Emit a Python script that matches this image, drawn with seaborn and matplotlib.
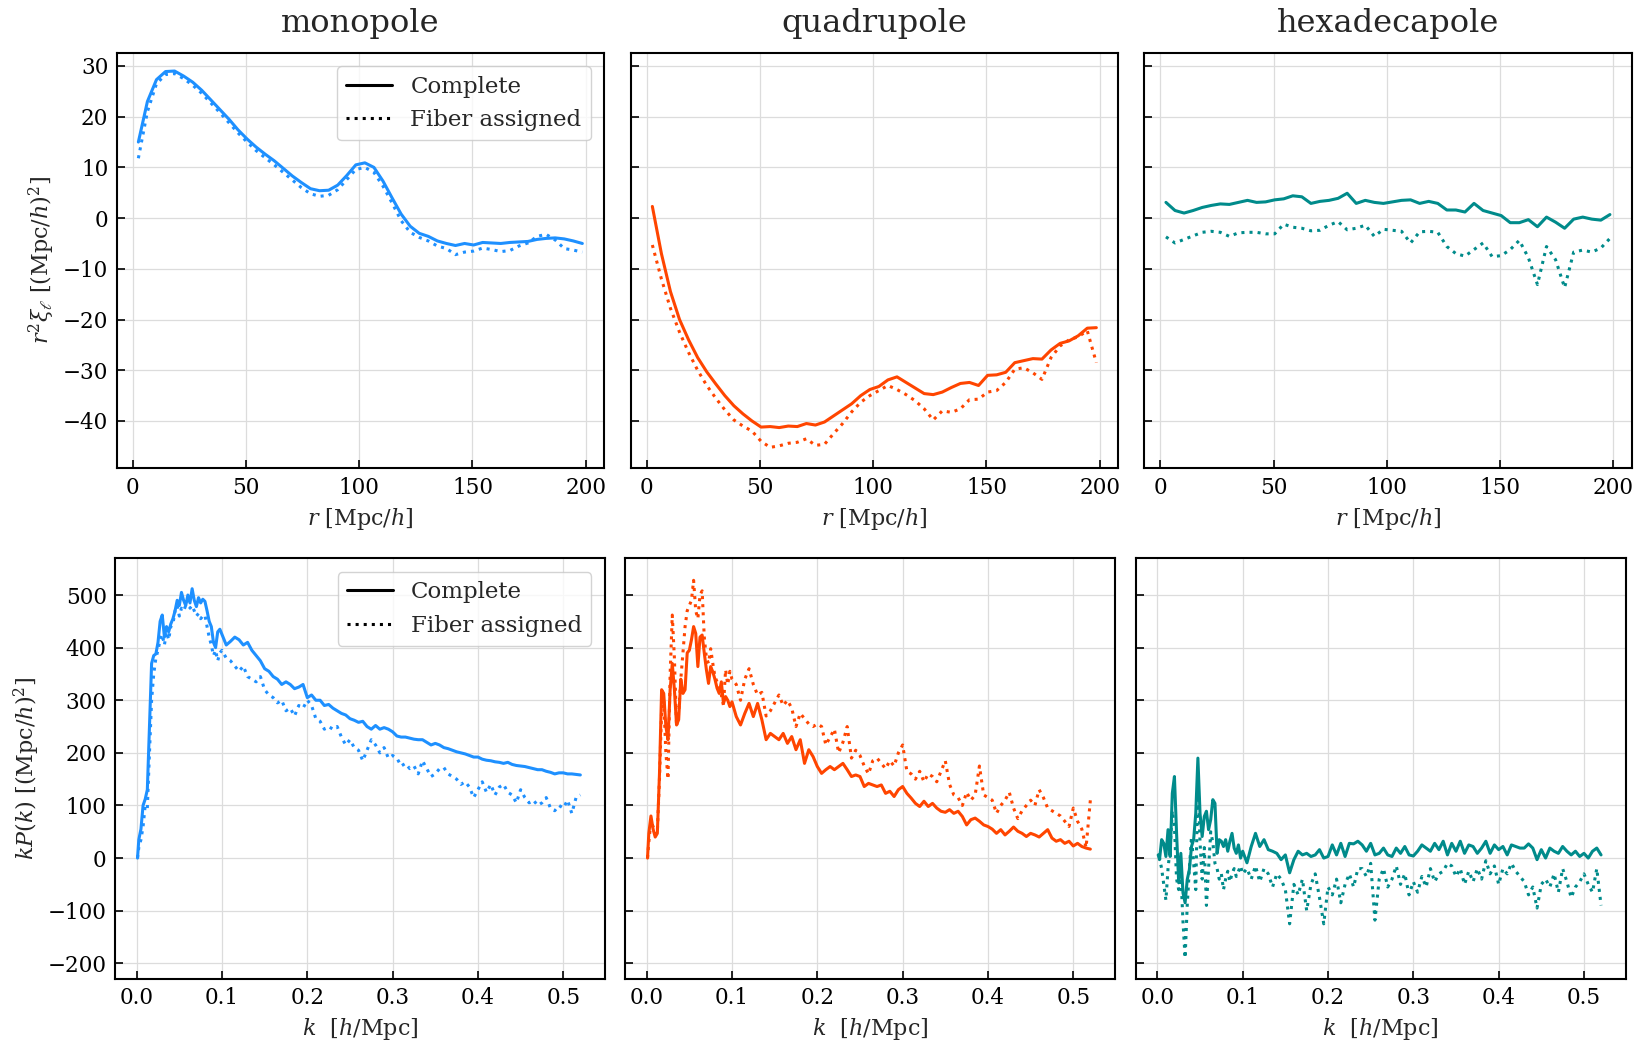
import numpy as np
import matplotlib
matplotlib.use("Agg")
import matplotlib.pyplot as plt
import seaborn as sns
from matplotlib.lines import Line2D

# ---------------- configuration-space multipoles ----------------
r = [2.5, 6.5, 10.5, 14.5, 18.5, 22.5, 26.5, 30.5, 34.5, 38.5,
     42.5, 46.5, 50.5, 54.5, 58.5, 62.5, 66.5, 70.5, 74.5, 78.5,
     82.5, 86.5, 90.5, 94.5, 98.5, 102.5, 106.5, 110.5, 114.5, 118.5,
     122.5, 126.5, 130.5, 134.5, 138.5, 142.5, 146.5, 150.5, 154.5, 158.5,
     162.5, 166.5, 170.5, 174.5, 178.5, 182.5, 186.5, 190.5, 194.5, 198.5]

xi0_complete = [15.0, 23.0, 27.3, 28.9, 29.0, 28.0, 26.8, 25.2, 23.3, 21.4,
                19.5, 17.4, 15.6, 14.0, 12.6, 11.3, 9.8, 8.3, 7.0, 5.8,
                5.4, 5.5, 6.5, 8.4, 10.5, 10.9, 10.0, 7.3, 4.0, 0.8,
                -1.6, -3.0, -3.6, -4.5, -5.0, -5.4, -5.0, -5.3, -4.8, -4.9,
                -5.0, -4.8, -4.7, -4.6, -4.2, -4.0, -3.9, -4.1, -4.5, -5.0]
xi0_fiber = [11.8, 21.0, 26.5, 28.3, 28.5, 27.5, 26.2, 24.6, 22.7, 20.8,
             18.8, 16.8, 15.0, 13.3, 11.9, 10.5, 9.0, 7.5, 6.0, 4.8,
             4.3, 4.5, 5.6, 7.6, 9.6, 10.0, 9.0, 6.3, 3.0, -0.5,
             -2.8, -3.8, -4.5, -5.5, -6.0, -7.2, -6.7, -6.5, -5.9, -6.2,
             -6.6, -6.4, -5.5, -4.9, -3.6, -3.2, -4.3, -6.0, -6.3, -6.7]

xi2_complete = [2.3, -7.0, -14.5, -20.0, -24.0, -27.5, -30.3, -32.7, -35.0, -37.0,
                -38.6, -40.0, -41.2, -41.1, -41.3, -41.0, -41.1, -40.5, -40.8, -40.2,
                -39.0, -37.8, -36.6, -35.0, -33.8, -33.2, -31.9, -31.3, -32.4, -33.5,
                -34.6, -34.8, -34.3, -33.4, -32.6, -32.4, -33.0, -31.0, -30.9, -30.4,
                -28.5, -28.1, -27.7, -27.8, -26.0, -24.7, -24.2, -23.2, -21.7, -21.6]
xi2_fiber = [-5.3, -12.0, -17.8, -22.5, -26.5, -30.0, -33.0, -35.5, -37.8, -39.8,
             -41.0, -42.0, -44.0, -45.2, -44.9, -44.4, -44.2, -43.5, -44.8, -44.6,
             -42.5, -40.5, -38.2, -36.3, -35.0, -34.0, -33.0, -33.8, -34.8, -36.0,
             -37.6, -39.8, -38.0, -38.3, -37.6, -35.8, -35.7, -34.3, -34.0, -32.4,
             -29.8, -29.5, -30.5, -31.8, -27.5, -25.2, -24.0, -23.4, -22.2, -28.5]

xi4_complete = [3.1, 1.5, 1.0, 1.5, 2.1, 2.5, 2.8, 2.7, 3.1, 3.5,
                3.1, 3.2, 3.6, 3.8, 4.4, 4.2, 2.9, 3.3, 3.5, 3.9,
                4.9, 2.9, 3.5, 3.1, 2.9, 3.2, 3.5, 3.6, 2.9, 3.3,
                2.9, 1.6, 1.6, 1.2, 2.9, 1.5, 1.0, 0.5, -0.9, -0.9,
                -0.3, -1.7, 0.2, -0.8, -2.0, -0.2, 0.2, -0.2, -0.4, 0.7]
xi4_fiber = [-3.7, -4.9, -4.2, -3.5, -2.8, -2.6, -2.8, -3.6, -2.9, -2.8,
             -2.8, -3.1, -3.1, -1.2, -1.8, -2.0, -2.5, -2.4, -1.4, -0.7,
             -2.3, -2.0, -1.4, -3.6, -2.2, -2.4, -2.6, -4.9, -2.7, -2.6,
             -2.8, -5.6, -7.0, -7.5, -6.2, -4.9, -7.6, -7.4, -6.2, -4.4,
             -7.8, -13.1, -5.6, -8.2, -13.7, -6.7, -6.3, -6.7, -5.9, -4.0]

# ---------------- Fourier-space multipoles ----------------
k_low = np.round(np.arange(40) * 0.0025, 4)
k_low[0] = 0.001
k_high = np.round(0.1 + np.arange(85) * 0.005, 4)
k = np.concatenate([k_low, k_high])

P0_complete = [0, 35, 55, 100, 112, 130, 250, 370, 385, 388,
               410, 450, 462, 420, 440, 430, 445, 455, 470, 490,
               480, 505, 490, 480, 500, 485, 512, 490, 478, 495,
               485, 492, 488, 470, 450, 440, 410, 400, 430, 435,
               425, 405, 412, 420, 415, 405, 410, 395, 385, 375,
               360, 355, 345, 340, 330, 335, 330, 322, 325, 330,
               305, 310, 300, 300, 290, 292, 285, 280, 275, 272,
               265, 262, 258, 260, 250, 245, 252, 245, 248, 245,
               240, 232, 230, 230, 228, 226, 225, 225, 220, 215,
               218, 215, 210, 208, 205, 202, 200, 198, 195, 192,
               192, 188, 186, 185, 183, 182, 180, 182, 178, 176,
               175, 174, 172, 170, 168, 168, 165, 163, 160, 162,
               162, 160, 160, 159, 158]
P0_fiber = [0, 20, 35, 60, 100, 95, 200, 300, 350, 380,
            395, 415, 425, 405, 430, 415, 440, 445, 470, 480,
            460, 475, 470, 480, 490, 475, 480, 470, 460, 465,
            455, 460, 462, 440, 420, 405, 385, 395, 375, 390,
            395, 380, 375, 365, 355, 365, 345, 340, 335, 345,
            320, 310, 305, 295, 300, 280, 285, 270, 290, 285,
            300, 290, 265, 260, 245, 250, 245, 250, 230, 215,
            225, 210, 205, 185, 205, 225, 215, 200, 210, 190,
            195, 190, 175, 180, 170, 175, 160, 185, 170, 155,
            160, 170, 172, 160, 155, 150, 140, 145, 135, 115,
            130, 145, 125, 140, 120, 135, 140, 125, 120, 105,
            130, 115, 105, 110, 100, 105, 115, 95, 90, 100,
            95, 110, 85, 115, 120]

P2_complete = [0, 47, 80, 55, 40, 47, 160, 320, 313, 250,
               225, 320, 370, 320, 253, 263, 340, 313, 320, 390,
               395, 415, 440, 427, 364, 420, 424, 390, 358, 332,
               364, 354, 340, 323, 313, 335, 294, 307, 300, 288,
               297, 269, 253, 275, 294, 269, 294, 263, 225, 237,
               231, 225, 237, 218, 231, 206, 225, 180, 206, 193,
               174, 161, 168, 174, 168, 174, 180, 168, 155, 158,
               155, 136, 142, 139, 136, 139, 123, 127, 117, 130,
               136, 123, 114, 104, 98, 108, 98, 104, 95, 89,
               87, 92, 85, 89, 79, 63, 73, 76, 70, 63,
               60, 55, 47, 54, 44, 51, 59, 51, 47, 41,
               47, 44, 40, 47, 54, 38, 32, 35, 28, 32,
               23, 28, 22, 19, 17]
P2_fiber = [0, 30, 70, 60, 45, 50, 150, 280, 300, 200,
            150, 350, 462, 380, 250, 275, 340, 390, 440, 470,
            480, 490, 528, 470, 455, 500, 508, 420, 380, 370,
            398, 370, 345, 335, 320, 310, 290, 358, 330, 355,
            340, 330, 300, 340, 360, 330, 310, 315, 270, 280,
            295, 310, 290, 300, 285, 250, 275, 265, 255, 250,
            255, 250, 215, 230, 245, 200, 220, 250, 190, 205,
            195, 175, 160, 185, 190, 180, 170, 185, 175, 200,
            215, 165, 160, 150, 165, 145, 160, 155, 145, 165,
            185, 140, 120, 115, 100, 125, 110, 120, 175, 120,
            115, 110, 85, 100, 110, 125, 95, 75, 90, 100,
            110, 100, 130, 115, 95, 90, 85, 80, 70, 60,
            95, 70, 55, 20, 110]

P4_complete = [6, -3, 35, 28, 3, 54, 3, 123, 155, 47,
               -47, 9, -66, -85, -41, -22, 22, 35, 85, 190,
               85, 41, 79, 89, 54, 73, 111, 104, 9, 35,
               32, 22, 35, 13, 32, 47, 19, 9, 25, 0,
               13, -9, 22, 47, 22, 35, 16, 13, 9, -3,
               6, -28, -3, 13, 6, 9, 3, 6, 16, 0,
               3, 25, 6, 28, 3, 28, 27, 32, 25, 13,
               28, 6, 9, 19, 6, 3, 19, 9, 22, 6,
               4, 13, 25, 19, 13, 28, 16, 32, 6, 28,
               13, 32, 9, 25, 22, 9, 19, 32, 9, 25,
               16, 22, 6, 25, 22, 19, 19, 27, 19, -3,
               16, 0, 19, 13, 9, 22, 13, 6, 13, 3,
               9, 0, 13, 19, 6]
P4_fiber = [0, 0, -20, -50, -80, -20, 20, 90, 60, -40,
            -60, -30, -120, -190, -90, -20, 40, -10, -60, 150,
            30, -40, 20, -90, -20, 50, 30, -10, -20, -40,
            -30, -60, -40, -25, -45, -30, -20, -35, -25, -15,
            -30, -20, -40, -15, -45, -20, -30, -55, -30, -40,
            -60, -125, -50, -70, -40, -100, -50, -30, -75, -125,
            -55, -70, -40, -85, -50, -30, -55, -20, -20, -35,
            -10, -118, -40, -20, -55, -40, -15, -50, -30, -70,
            -45, -65, -35, -55, -20, -45, -30, -25, -10, -15,
            -35, -20, -50, -25, -45, -20, -40, -5, -30, -15,
            -50, -20, -30, -10, -25, -35, -45, -70, -55, -95,
            -50, -40, -55, -30, -65, -20, -45, -75, -55, -45,
            -30, -50, -65, -20, -90]

titles = ["monopole", "quadrupole", "hexadecapole"]
colors = ["#1E90FF", "#FF4500", "#008B8B"]
legend_labels = ["Complete", "Fiber assigned"]

# ---------------- style ----------------
sns.set_theme(style="ticks")
plt.rcParams["font.family"] = ["DejaVu Serif"]
plt.rcParams["mathtext.fontset"] = "dejavuserif"

fig = plt.figure(figsize=(16.4, 10.43), dpi=100)

top_h = 0.3985
top_b = 0.5510
top_w = 0.29732
top_lefts = [0.07116, 0.38457, 0.69774]
bot_h = 0.4030
bot_b = 0.06165
bot_w = 0.29878
bot_lefts = [0.07012, 0.38110, 0.69250]

xi_sets = [(xi0_complete, xi0_fiber), (xi2_complete, xi2_fiber), (xi4_complete, xi4_fiber)]
pk_sets = [(P0_complete, P0_fiber), (P2_complete, P2_fiber), (P4_complete, P4_fiber)]

LW = 2.2


def style_axis(ax, show_ylabels):
    ax.grid(True, color="#dcdcdc", linewidth=0.9)
    ax.set_axisbelow(True)
    for s in ax.spines.values():
        s.set_color("black")
        s.set_linewidth(1.5)
    ax.tick_params(direction="in", length=5.5, width=1.2, labelsize=15.5,
                   top=False, right=False, colors="black", pad=6,
                   labelleft=show_ylabels)


def add_legend(ax):
    handles = [Line2D([], [], color="black", lw=LW, ls="-"),
               Line2D([], [], color="black", lw=LW, ls=":")]
    ax.legend(handles, legend_labels, loc="upper right", fontsize=16.5,
              frameon=True, fancybox=True, edgecolor="#c8c8c8",
              borderaxespad=0.6)


for i in range(3):
    ax = fig.add_axes([top_lefts[i], top_b, top_w, top_h])
    comp, fib = xi_sets[i]
    sns.lineplot(x=r, y=comp, ax=ax, color=colors[i], linewidth=LW, linestyle="-")
    sns.lineplot(x=r, y=fib, ax=ax, color=colors[i], linewidth=LW, linestyle=":")
    ax.set_xlim(-7.06, 208.2)
    ax.set_ylim(-49.33, 32.62)
    ax.set_xticks([0, 50, 100, 150, 200])
    ax.set_yticks([-40, -30, -20, -10, 0, 10, 20, 30])
    style_axis(ax, i == 0)
    ax.set_xlabel(r"$r$ [Mpc/$h$]", fontsize=16, labelpad=5)
    ax.set_title(titles[i], fontsize=23, pad=15)
    if i == 0:
        ax.set_ylabel(r"$r^2\xi_\ell$ [(Mpc/$h$)$^2$]", fontsize=16, labelpad=4)
        add_legend(ax)
    else:
        ax.set_ylabel("")

for i in range(3):
    ax = fig.add_axes([bot_lefts[i], bot_b, bot_w, bot_h])
    comp, fib = pk_sets[i]
    sns.lineplot(x=k, y=comp, ax=ax, color=colors[i], linewidth=LW, linestyle="-")
    sns.lineplot(x=k, y=fib, ax=ax, color=colors[i], linewidth=LW, linestyle=":")
    ax.set_xlim(-0.0254, 0.5489)
    ax.set_ylim(-229.3, 569.7)
    ax.set_xticks([0.0, 0.1, 0.2, 0.3, 0.4, 0.5])
    ax.set_xticklabels(["0.0", "0.1", "0.2", "0.3", "0.4", "0.5"])
    ax.set_yticks([-200, -100, 0, 100, 200, 300, 400, 500])
    style_axis(ax, i == 0)
    ax.set_xlabel(r"$k$  [$h$/Mpc]", fontsize=16, labelpad=5)
    if i == 0:
        ax.set_ylabel(r"$kP(k)$ [(Mpc/$h$)$^2$]", fontsize=16, labelpad=4)
        add_legend(ax)
    else:
        ax.set_ylabel("")

fig.savefig("out.png", dpi=100)
